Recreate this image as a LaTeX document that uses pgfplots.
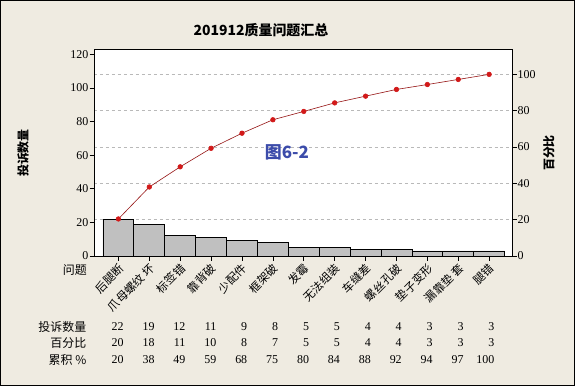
\documentclass[border=0pt]{standalone}
\usepackage{pgfplots}
\pgfplotsset{compat=1.18}
\usepackage{fontspec}
\setmainfont{Liberation Serif}
\newfontfamily\cjk{Noto Sans CJK SC}
\definecolor{bgc}{RGB}{239,235,225}
\definecolor{barc}{RGB}{192,192,192}
\definecolor{linec}{RGB}{150,20,20}
\definecolor{markc}{RGB}{210,25,25}
\definecolor{wm}{RGB}{60,76,170}
\begin{document}
\begin{tikzpicture}[x=1bp,y=1bp]
\fill[bgc] (0,0) rectangle (575,386);
\draw[black, line width=1.2bp] (0.6,0.6) rectangle (574.4,385.4);
\begin{axis}[at={(94bp,130bp)}, anchor=south west, scale only axis,
  width=418bp, height=206.7bp,
  xmin=-0.79, xmax=12.74, ymin=0, ymax=122.9,
  axis background/.style={fill=white},
  ytick={0,20,...,120}, ytick pos=left,
  xtick={0,...,12}, xtick pos=bottom,
  xticklabels={后腿断,爪母螺纹 坏,标签错,靠背破,少配件,框架破,发霉,无法组装,车缝差,螺丝孔破,垫子变形,漏靠垫 套,腿错},
  tick align=outside, major tick length=4.5bp,
  tick style={black, line width=0.6bp},
  axis line style={line width=1bp},
  /pgf/number format/assume math mode=true,
  yticklabel style={font=\fontsize{12}{12}\selectfont, inner sep=1bp},
  xticklabel style={font=\cjk\fontsize{11.5}{12}\selectfont, xshift=3bp, yshift=-6bp, rotate=45, anchor=east, inner sep=0pt},
  extra y ticks={21.6,43.2,64.8,86.4,108}, extra y tick labels={},
  extra y tick style={grid=major, major grid style={dashed, gray!55, line width=0.6bp}, major tick length=0pt},
  clip=false]
\addplot[ybar, bar width=1, fill=barc, draw=black, line width=0.8bp] coordinates {
(0,22) (1,19) (2,12) (3,11) (4,9) (5,8) (6,5) (7,5) (8,4) (9,4) (10,3) (11,3) (12,3)};
\end{axis}
\begin{axis}[at={(94bp,130bp)}, anchor=south west, scale only axis,
  width=418bp, height=206.7bp,
  xmin=-0.79, xmax=12.74, ymin=0, ymax=113.8,
  ytick={0,20,...,100}, ytick pos=right, xtick=\empty,
  tick align=outside, major tick length=4.5bp,
  tick style={black, line width=0.6bp},
  axis line style={line width=1bp},
  /pgf/number format/assume math mode=true,
  yticklabel style={font=\fontsize{12}{12}\selectfont, inner sep=1bp},
  clip=false]
\addplot[linec, line width=0.6bp, mark=*, mark size=2.3bp, mark options={fill=markc, draw=markc}] coordinates {
(0,20.4) (1,38.0) (2,49.1) (3,59.3) (4,67.6) (5,75.0) (6,79.6) (7,84.3) (8,88.0) (9,91.7) (10,94.4) (11,97.2) (12,100)};
\end{axis}
\node[font=\cjk\bfseries\fontsize{14}{14}\selectfont] at (261,356) {201912质量问题汇总};
\node[rotate=90, font=\cjk\bfseries\fontsize{12}{12}\selectfont] at (23,233) {投诉数量};
\node[rotate=90, font=\cjk\bfseries\fontsize{12}{12}\selectfont] at (549,233) {百分比};
\node[text=wm, font=\cjk\bfseries\fontsize{17}{17}\selectfont] at (287,234) {图6-2};
\node[anchor=east, inner sep=0pt, font=\cjk\fontsize{12}{12}\selectfont] at (87,116) {问题};
\node[anchor=east, inner sep=0pt, font=\cjk\fontsize{12}{12}\selectfont] at (86.5,59) {投诉数量};
\node[anchor=east, inner sep=0pt, font=\cjk\fontsize{12}{12}\selectfont] at (86.5,43) {百分比};
\node[anchor=east, inner sep=0pt, font=\cjk\fontsize{12}{12}\selectfont] at (86.5,26) {累积 \%};
\foreach \v [count=\i from 0] in {22,19,12,11,9,8,5,5,4,4,3,3,3}
  \node[anchor=east, inner sep=0pt, font=\fontsize{12}{12}\selectfont] at ({118.3+30.9*\i+5.5},59) {\v};
\foreach \v [count=\i from 0] in {20,18,11,10,8,7,5,5,4,4,3,3,3}
  \node[anchor=east, inner sep=0pt, font=\fontsize{12}{12}\selectfont] at ({118.3+30.9*\i+5.5},43) {\v};
\foreach \v [count=\i from 0] in {20,38,49,59,68,75,80,84,88,92,94,97,100}
  \node[anchor=east, inner sep=0pt, font=\fontsize{12}{12}\selectfont] at ({118.3+30.9*\i+5.5},26) {\v};
\end{tikzpicture}
\end{document}
